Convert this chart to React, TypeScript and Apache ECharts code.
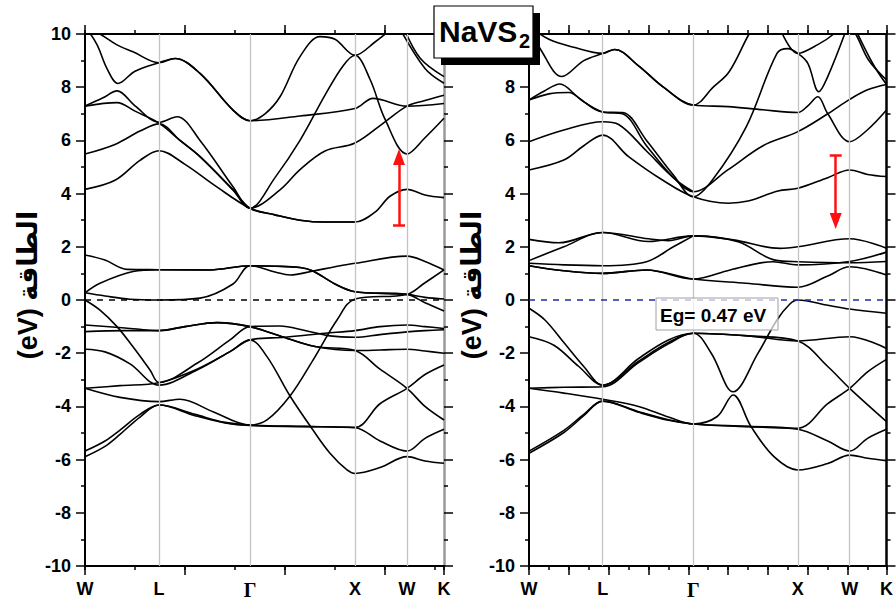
import React, { useEffect, useRef } from 'react';
import * as echarts from 'echarts';

// High-symmetry points (path length units) and their names
const kPoints = [0, 74, 165, 270, 322, 359];
const kNames = ['W', 'L', 'Γ', 'X', 'W', 'K'];
const energyMin = -10;
const energyMax = 10;
const energyStep = 2;
const yAxisTitle = '(eV) الطاقة';
const titleMain = 'NaVS';
const titleSub = '2';
const gapLabel = 'Eg= 0.47 eV';

// Left panel (metallic) bands [k, E]
const leftConduction: number[][][] = [
  [[0, 4.16], [30, 4.5], [55, 5.25], [74, 5.61], [100, 5.1], [130, 4.3], [165, 3.45], [190, 3.2], [215, 3.0], [240, 2.93], [270, 2.93], [290, 3.3], [305, 3.9], [322, 4.16], [340, 3.95], [359, 3.85]],
  [[0, 5.49], [30, 5.85], [55, 6.35], [74, 6.62], [95, 6.0], [115, 5.39], [148, 4.14], [165, 3.45], [195, 4.14], [215, 4.9], [240, 5.6], [270, 5.9], [300, 6.7], [322, 7.29], [340, 7.5], [359, 7.7]],
  [[0, 7.29], [18, 7.6], [32, 7.86], [50, 7.3], [74, 6.68], [92, 6.89], [115, 6.0], [148, 4.26], [165, 3.45], [190, 4.6], [215, 6.0], [240, 7.7], [258, 8.8], [270, 9.2], [285, 8.3], [300, 6.8], [322, 5.49], [340, 6.1], [359, 6.83]],
  [[0, 7.29], [32, 7.42], [50, 7.1], [74, 6.65], [95, 6.0], [115, 5.39], [148, 4.14], [165, 3.45], [190, 3.2], [215, 3.0], [240, 2.93], [270, 2.93]],
  [[0, 10.3], [12, 9.6], [22, 8.7], [33, 8.14], [50, 8.6], [74, 8.92], [90, 9.08], [115, 8.52], [148, 7.14], [165, 6.74], [180, 7.0], [195, 7.64], [215, 9.15], [235, 9.9], [250, 9.8], [270, 9.2], [290, 9.7], [310, 10.3]],
  [[0, 10.3], [15, 10.0], [32, 9.59], [48, 9.33], [74, 8.92], [90, 9.08], [115, 8.52], [148, 7.14], [165, 6.74], [215, 6.92], [270, 7.2], [288, 7.58], [322, 7.29], [359, 7.39]],
  [[318, 10.3], [335, 9.1], [359, 8.4]],
  [[312, 10.4], [340, 8.7], [359, 8.15]],
];
const leftNearFermi: number[][][] = [
  [[0, 0.27], [20, 0.15], [45, 0.03], [74, 0.0], [115, 0.07], [148, 0.6], [165, 1.29], [190, 1.27], [215, 1.22], [228, 1.09], [250, 0.6], [270, 0.31], [322, 0.21], [340, 0.1], [359, 0.04]],
  [[0, 0.27], [15, 0.63], [48, 1.07], [74, 1.14], [125, 1.13], [165, 1.29], [190, 1.05], [205, 0.94], [228, 1.09], [250, 1.25], [270, 1.38], [322, 1.65], [340, 1.45], [359, 1.13]],
  [[0, 1.69], [20, 1.5], [42, 1.15], [74, 1.14], [125, 1.13], [165, 1.29], [215, 1.22], [228, 1.09], [250, 0.6], [270, 0.31], [322, 0.21], [340, -0.1], [359, -0.41]],
];
const leftValence: number[][][] = [
  [[0, 0.0], [15, -0.38], [32, -1.0], [48, -1.76], [65, -2.63], [74, -3.1], [112, -2.38], [145, -1.5], [165, -1.0], [195, -0.98], [220, -1.15], [245, -1.35], [270, -1.4], [295, -1.3], [322, -1.2], [340, -1.15], [359, -1.12]],
  [[0, -0.94], [40, -1.05], [74, -1.15], [100, -1.0], [132, -0.85], [165, -1.0], [195, -1.35], [230, -1.75], [270, -1.9], [295, -1.88], [322, -1.85], [340, -1.92], [359, -2.0]],
  [[0, -1.19], [40, -1.15], [74, -1.15], [100, -1.0], [132, -0.85], [165, -1.0], [195, -1.35], [230, -1.75], [270, -1.9], [295, -2.6], [322, -3.32], [340, -4.0], [359, -4.51]],
  [[0, -1.85], [20, -1.95], [45, -2.4], [74, -3.2], [112, -2.63], [145, -1.94], [165, -1.5], [182, -2.13], [205, -3.61], [228, -4.89], [245, -5.76], [262, -6.39], [270, -6.52], [295, -6.3], [322, -5.89], [340, -6.05], [359, -6.14]],
  [[0, -3.32], [35, -3.22], [74, -3.11], [112, -2.6], [145, -1.94], [165, -1.5], [200, -1.4], [240, -1.25], [270, -1.15], [295, -1.0], [322, -0.94], [340, -1.0], [359, -1.07]],
  [[0, -3.32], [35, -3.66], [74, -3.82], [95, -3.73], [128, -4.2], [165, -4.7], [182, -4.51], [205, -3.61], [228, -2.26], [252, -0.75], [270, 0.04], [322, 0.21], [340, 0.65], [359, 1.13]],
  [[0, -5.68], [20, -5.3], [35, -4.89], [55, -4.3], [74, -3.95], [110, -4.3], [140, -4.6], [165, -4.7], [220, -4.75], [270, -4.79], [295, -3.9], [322, -3.32], [340, -2.8], [359, -2.44]],
  [[0, -5.89], [20, -5.5], [35, -5.05], [55, -4.4], [74, -3.95], [110, -4.35], [140, -4.62], [165, -4.72], [220, -4.76], [270, -4.8], [295, -5.3], [322, -5.68], [340, -5.2], [359, -4.86]],
];

// Right panel (semiconducting) bands [k, E]
const rightConduction: number[][][] = [
  [[0, 4.89], [35, 5.26], [55, 5.8], [74, 6.2], [100, 5.39], [134, 4.51], [165, 3.88], [200, 3.64], [220, 3.72], [250, 4.1], [270, 4.2], [300, 4.6], [322, 4.89], [340, 4.72], [359, 4.64]],
  [[0, 5.95], [35, 6.39], [74, 6.7], [90, 6.6], [118, 5.6], [145, 4.6], [165, 4.07], [200, 4.9], [235, 5.8], [270, 6.33], [300, 7.0], [322, 7.54], [340, 7.9], [359, 8.1]],
  [[0, 7.52], [15, 7.85], [31, 8.12], [50, 7.6], [74, 7.07], [94, 7.05], [118, 6.0], [145, 4.7], [165, 3.88], [184, 4.5], [218, 6.5], [249, 9.27], [260, 9.45], [270, 9.27], [280, 8.9], [291, 7.83], [300, 8.4], [318, 10.1]],
  [[0, 7.52], [20, 7.75], [40, 7.8], [55, 7.45], [74, 7.07], [94, 7.0], [118, 5.8], [145, 4.6], [165, 4.07]],
  [[0, 10.3], [12, 9.4], [33, 8.4], [55, 9.0], [74, 9.27], [86, 9.42], [110, 8.8], [135, 8.0], [165, 7.33], [200, 7.27], [235, 7.15], [270, 7.05], [280, 7.3], [290, 7.64], [300, 7.0], [322, 5.95], [340, 6.4], [359, 7.14]],
  [[0, 10.3], [20, 9.8], [45, 9.5], [74, 9.27], [86, 9.42], [110, 8.8], [135, 8.0], [165, 7.33], [185, 8.0], [201, 8.58], [221, 10.0], [235, 10.8]],
  [[250, 10.4], [270, 9.27], [290, 9.6], [306, 10.0], [315, 10.4]],
  [[322, 10.2], [328, 10.0], [341, 9.02], [359, 8.27]],
  [[325, 10.4], [345, 8.9], [359, 8.1]],
];
const rightNearFermi: number[][][] = [
  [[0, 2.28], [30, 2.15], [74, 2.54], [120, 2.3], [140, 2.23], [165, 2.41], [205, 2.26], [252, 1.94], [270, 2.0], [322, 2.3], [359, 1.95]],
  [[0, 1.48], [35, 2.0], [74, 2.54], [120, 2.2], [165, 2.41], [210, 2.19], [247, 1.5], [270, 1.44], [322, 1.4], [359, 1.45]],
  [[0, 1.38], [35, 1.32], [74, 1.29], [118, 1.44], [145, 2.0], [165, 2.41]],
  [[0, 1.29], [35, 1.1], [74, 1.0], [118, 1.13], [165, 0.79], [218, 0.63], [270, 0.48], [300, 0.9], [322, 1.25], [359, 0.94]],
  [[0, 1.29], [35, 1.1], [74, 1.0], [118, 1.13], [165, 0.79], [202, 1.13], [245, 1.44], [270, 1.32], [322, 1.45], [359, 1.8]],
];
const rightValence: number[][][] = [
  [[0, -0.31], [16, -0.75], [35, -1.6], [55, -2.5], [74, -3.2], [110, -2.2], [140, -1.5], [165, -1.25], [183, -2.0], [205, -3.45], [230, -2.0], [249, -0.75], [262, -0.15], [270, 0.0], [300, -0.2], [322, -0.34], [359, -0.5]],
  [[0, -1.38], [25, -1.7], [50, -2.5], [74, -3.2], [110, -2.3], [140, -1.6], [165, -1.25], [220, -1.35], [270, -1.54], [322, -1.38], [359, -1.82]],
  [[0, -3.32], [35, -3.28], [74, -3.26], [110, -2.35], [140, -1.65], [165, -1.25], [220, -1.35], [270, -1.54], [300, -2.5], [322, -3.32], [359, -4.57]],
  [[0, -3.32], [35, -3.5], [74, -3.73], [110, -4.0], [140, -4.4], [165, -4.66], [189, -4.38], [205, -3.57], [223, -4.76], [246, -5.89], [270, -6.39], [300, -6.15], [322, -5.83], [340, -5.95], [359, -6.04]],
  [[0, -5.68], [35, -4.9], [55, -4.3], [74, -3.8], [110, -4.2], [140, -4.5], [165, -4.66], [220, -4.75], [270, -4.86], [300, -5.3], [322, -5.68], [340, -5.2], [359, -4.86]],
  [[0, -5.76], [35, -4.98], [55, -4.35], [74, -3.8], [110, -4.22], [140, -4.52], [165, -4.66], [220, -4.76], [270, -4.82], [300, -3.9], [322, -3.32], [340, -2.7], [359, -2.23]],
];

// Red arrow annotations [k, Estart, Eend]
const leftArrow = [314, 2.82, 5.38];
const rightArrow = [308, 5.45, 2.97];

const FONT = 'Liberation Sans, Arial, sans-serif';

function xAxesFor(grid: number, majorStep: number, minorStep: number) {
  const base = {
    gridIndex: grid, type: 'value', min: 0, max: 359,
    splitLine: { show: false },
  };
  const labelOpts = {
    show: true,
    customValues: kPoints,
    margin: 14,
    color: '#000',
    fontSize: 18,
    fontWeight: 'bold',
    fontFamily: FONT,
    formatter: (v: number) => {
      const i = kPoints.findIndex((p) => Math.abs(p - v) < 0.5);
      const n = i >= 0 ? kNames[i] : '';
      return n === 'Γ' ? '{g|Γ}' : n;
    },
    rich: { g: { fontFamily: 'Liberation Serif, serif', fontWeight: 'bold', fontSize: 20, color: '#000' } },
  };
  return [
    { ...base, position: 'bottom', interval: majorStep, axisLine: { show: true, onZero: false, lineStyle: { color: '#000', width: 2 } }, axisTick: { show: true, length: 9, lineStyle: { color: '#000', width: 1.5 } }, axisLabel: labelOpts },
    { ...base, position: 'bottom', interval: minorStep, axisLine: { show: false, onZero: false }, axisTick: { show: true, length: 4, lineStyle: { color: '#000', width: 1.5 } }, axisLabel: { show: false } },
    { ...base, position: 'top', interval: majorStep, axisLine: { show: true, onZero: false, lineStyle: { color: '#000', width: 2 } }, axisTick: { show: true, length: 9, lineStyle: { color: '#000', width: 1.5 } }, axisLabel: { show: false } },
    { ...base, position: 'top', interval: minorStep, axisLine: { show: false, onZero: false }, axisTick: { show: true, length: 4, lineStyle: { color: '#000', width: 1.5 } }, axisLabel: { show: false } },
  ];
}

function yAxesFor(grid: number, rightColor: string, nameGap: number, hideTop: boolean) {
  const base = {
    gridIndex: grid, type: 'value', min: energyMin, max: energyMax, interval: energyStep,
    splitLine: { show: false },
    minorTick: { show: true, splitNumber: 2, length: 4, lineStyle: { color: '#000', width: 1.5 } },
    axisTick: { show: true, length: 9, lineStyle: { color: '#000', width: 1.5 } },
  };
  return [
    {
      ...base, position: 'left',
      axisLine: { show: true, onZero: false, lineStyle: { color: '#000', width: 2 } },
      axisLabel: {
        show: true, margin: 14, color: '#000', fontSize: 18, fontWeight: 'bold', fontFamily: FONT,
        formatter: (v: number) => (hideTop && v === energyMax ? '' : String(v)),
      },
      name: yAxisTitle, nameLocation: 'middle', nameGap, nameRotate: 90,
      nameTextStyle: {
        color: '#000', fontSize: 27, fontWeight: 'bold', fontFamily: 'Liberation Sans, DejaVu Sans, sans-serif',
        padding: [0, 0, 0, 30],
      },
    },
    {
      ...base, position: 'right',
      axisLine: { show: true, onZero: false, lineStyle: { color: rightColor, width: 2.5 } },
      axisLabel: { show: false },
    },
  ];
}

function bandSeries(bands: number[][][], grid: number) {
  return bands.map((b) => ({
    type: 'line', xAxisIndex: grid * 4, yAxisIndex: grid * 2, data: b,
    smooth: 0.35, symbol: 'none', showSymbol: false, silent: true, z: 3,
    lineStyle: { color: '#000', width: 1.6 },
  }));
}

function guideSeries(grid: number, zeroColor: string) {
  return {
    type: 'line', xAxisIndex: grid * 4, yAxisIndex: grid * 2, data: [], silent: true, z: 1,
    markLine: {
      silent: true, symbol: 'none', label: { show: false }, animation: false,
      data: [
        ...kPoints.slice(1, 5).map((x) => ({ xAxis: x, lineStyle: { color: '#c4c4c4', width: 1.3, type: 'solid' } })),
        { yAxis: 0, lineStyle: { color: zeroColor, width: 1.5, type: [6, 6] } },
      ],
    },
  };
}

function arrowSeries(grid: number, a: number[]) {
  const [k, e0, e1] = a;
  return {
    type: 'line', xAxisIndex: grid * 4, yAxisIndex: grid * 2, data: [], silent: true, z: 5,
    markLine: {
      silent: true, animation: false, label: { show: false },
      lineStyle: { color: '#ff1010', width: 2.5, type: 'solid' },
      data: [
        [{ coord: [k, e0], symbol: 'none' }, { coord: [k, e1], symbol: 'triangle', symbolSize: [12, 16] }],
        [{ coord: [k - 6, e0], symbol: 'none' }, { coord: [k + 6, e0], symbol: 'none' }],
      ],
    },
  };
}

export default function App() {
  const ref = useRef<HTMLDivElement>(null);
  useEffect(() => {
    if (!ref.current) return;
    const chart = echarts.init(ref.current, null, { renderer: 'svg' });
    const option = {
      animation: false,
      backgroundColor: '#fff',
      grid: [
        { left: 85, top: 34, width: 359, height: 532 },
        { left: 529, top: 34, width: 359, height: 532 },
      ],
      xAxis: [...xAxesFor(0, 100, 50), ...xAxesFor(1, 40, 20)],
      yAxis: [...yAxesFor(0, '#999', 40, false), ...yAxesFor(1, '#000', 28, true)],
      series: [
        guideSeries(0, '#000'),
        guideSeries(1, '#1f2d9e'),
        ...bandSeries([...leftConduction, ...leftNearFermi, ...leftValence], 0),
        ...bandSeries([...rightConduction, ...rightNearFermi, ...rightValence], 1),
        arrowSeries(0, leftArrow),
        arrowSeries(1, rightArrow),
      ],
      graphic: [
        { type: 'rect', z: 100, shape: { x: 441, y: 13, width: 99, height: 52 }, style: { fill: '#000' } },
        { type: 'rect', z: 101, shape: { x: 434, y: 6, width: 99, height: 52 }, style: { fill: '#fff', stroke: '#000', lineWidth: 1.2 } },
        { type: 'text', z: 102, x: 439, y: 31, style: { text: titleMain, fill: '#000', fontSize: 30, fontWeight: 'bold', fontFamily: FONT, textAlign: 'left', textVerticalAlign: 'middle' } },
        { type: 'text', z: 102, x: 519, y: 41, style: { text: titleSub, fill: '#000', fontSize: 20, fontWeight: 'bold', fontFamily: FONT, textAlign: 'left', textVerticalAlign: 'middle' } },
        { type: 'rect', z: 100, shape: { x: 656, y: 298, width: 122, height: 32 }, style: { fill: 'rgba(255,255,255,0.7)', stroke: '#a0a0a0', lineWidth: 1 } },
        { type: 'text', z: 102, x: 660, y: 315, style: { text: gapLabel, fill: '#000', fontSize: 19, fontWeight: 'bold', fontFamily: FONT, textAlign: 'left', textVerticalAlign: 'middle' } },
      ],
    };
    chart.setOption(option as any);
    return () => chart.dispose();
  }, []);
  return <div ref={ref} style={{ position: 'fixed', left: 0, top: 0, width: 896, height: 609, background: '#fff' }} />;
}
